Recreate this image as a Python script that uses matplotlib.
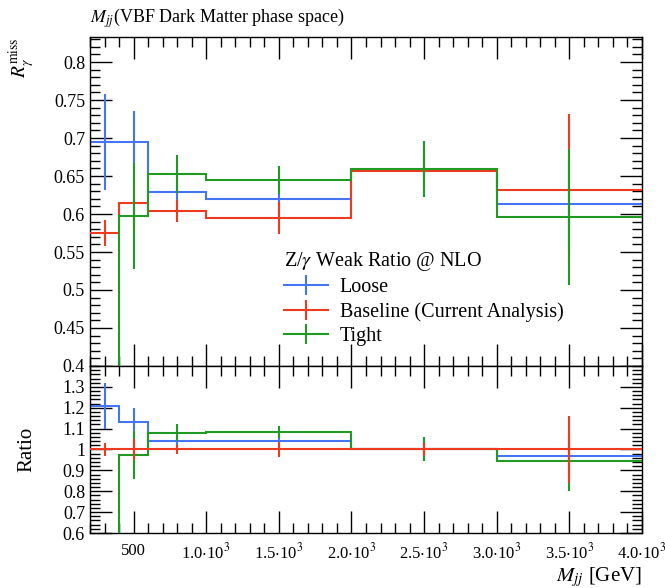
import numpy as np
import matplotlib
matplotlib.use("Agg")
import matplotlib.pyplot as plt
from matplotlib.ticker import MultipleLocator, FixedLocator, FixedFormatter
from matplotlib.lines import Line2D

plt.rcParams['font.family'] = ['Liberation Serif', 'DejaVu Serif']
plt.rcParams['mathtext.fontset'] = 'stix'

# Binning in M_jj [GeV]
edges = [200, 400, 600, 1000, 2000, 3000, 4000]

# R_gamma^miss per selection
loose = [0.695, 0.695, 0.629, 0.620, 0.658, 0.613]
loose_err = [0.063, 0.040, 0.012, 0.020, 0.030, 0.060]
baseline = [0.575, 0.614, 0.604, 0.595, 0.657, 0.632]
baseline_err = [0.017, 0.030, 0.014, 0.021, 0.022, 0.100]
tight = [0.250, 0.597, 0.653, 0.645, 0.659, 0.596]
tight_err = [0.050, 0.070, 0.025, 0.018, 0.037, 0.089]

labels = ["Loose", "Baseline (Current Analysis)", "Tight"]
colors = ["#4575f5", "#ee3a1e", "#1f9a22"]

xtick_vals = [500, 1000, 1500, 2000, 2500, 3000, 3500, 4000]
xtick_text = ["500", r"1.0$\cdot$10$^3$", r"1.5$\cdot$10$^3$", r"2.0$\cdot$10$^3$",
              r"2.5$\cdot$10$^3$", r"3.0$\cdot$10$^3$", r"3.5$\cdot$10$^3$",
              r"4.0$\cdot$10$^3$"]

edges_a = np.array(edges, dtype=float)
centers = 0.5 * (edges_a[:-1] + edges_a[1:])

fig = plt.figure(figsize=(6.65, 5.88), dpi=100)
ax = fig.add_axes([0.1353, 0.3776, 0.8301, 0.5595])
axr = fig.add_axes([0.1353, 0.0935, 0.8301, 0.2841], sharex=ax)

series = [(loose, loose_err), (baseline, baseline_err), (tight, tight_err)]
ref = np.array(baseline)

lw = 1.5
for i, ((v, e), c) in enumerate(zip(series, colors)):
    v = np.array(v); e = np.array(e)
    z = 2 + i
    ax.stairs(v, edges_a, color=c, lw=lw, zorder=z, baseline=None)
    ax.errorbar(centers, v, yerr=e, fmt='none', ecolor=c, elinewidth=lw,
                capsize=0, zorder=z)
    # ratio to baseline; baseline drawn on top
    zr = 5 if i == 1 else 2 + i
    axr.stairs(v / ref, edges_a, color=c, lw=lw, zorder=zr, baseline=None)
    axr.errorbar(centers, v / ref, yerr=e / ref, fmt='none', ecolor=c,
                 elinewidth=lw, capsize=0, zorder=zr)

ax.set_xlim(200, 4000)
ax.set_ylim(0.4, 0.833)
axr.set_ylim(0.6, 1.4)

for a in (ax, axr):
    a.xaxis.set_major_locator(FixedLocator(xtick_vals))
    a.xaxis.set_minor_locator(MultipleLocator(100))
    a.tick_params(which='both', direction='in', top=True, right=True,
                  labelsize=13, width=1)
    a.tick_params(which='major', length=16)
    a.tick_params(which='minor', length=7)
    for s in a.spines.values():
        s.set_linewidth(1)

ax.yaxis.set_major_locator(MultipleLocator(0.05))
ax.yaxis.set_minor_locator(MultipleLocator(0.01))
ax.yaxis.set_major_formatter(plt.FuncFormatter(lambda y, p: f"{y:g}"))
ax.tick_params(labelbottom=False)

axr.yaxis.set_major_locator(FixedLocator([0.6, 0.7, 0.8, 0.9, 1.0, 1.1, 1.2, 1.3]))
axr.yaxis.set_minor_locator(MultipleLocator(0.02))
axr.yaxis.set_major_formatter(plt.FuncFormatter(lambda y, p: f"{y:g}"))
axr.xaxis.set_major_formatter(FixedFormatter(xtick_text))
axr.tick_params(axis='x', pad=7, labelsize=12)

fig.text(0.1353, 0.962, r"$M_{jj}$(VBF Dark Matter phase space)", fontsize=13,
         ha='left', va='baseline')
fig.text(0.032, 0.937, r"$R_{\gamma}^{\rm miss}$", fontsize=14, rotation=90,
         ha='center', va='top')
fig.text(0.040, 0.236, "Ratio", fontsize=15, rotation=90, ha='center', va='center')
fig.text(0.9654, 0.012, r"$M_{jj}$ [GeV]", fontsize=15, ha='right', va='baseline')

handles = [Line2D([0], [0], color=c, lw=lw, marker='|', markersize=15,
                  markeredgewidth=lw) for c in colors]
leg = ax.legend(handles, labels, title=r"Z/$\gamma$ Weak Ratio @ NLO",
                loc='upper left', bbox_to_anchor=(0.336, 0.376), frameon=False,
                fontsize=14.5, title_fontsize=14.5, handlelength=2.2,
                handletextpad=0.6, labelspacing=0.24, borderaxespad=0)
leg._legend_box.align = "left"

fig.savefig("out.png", dpi=100)
